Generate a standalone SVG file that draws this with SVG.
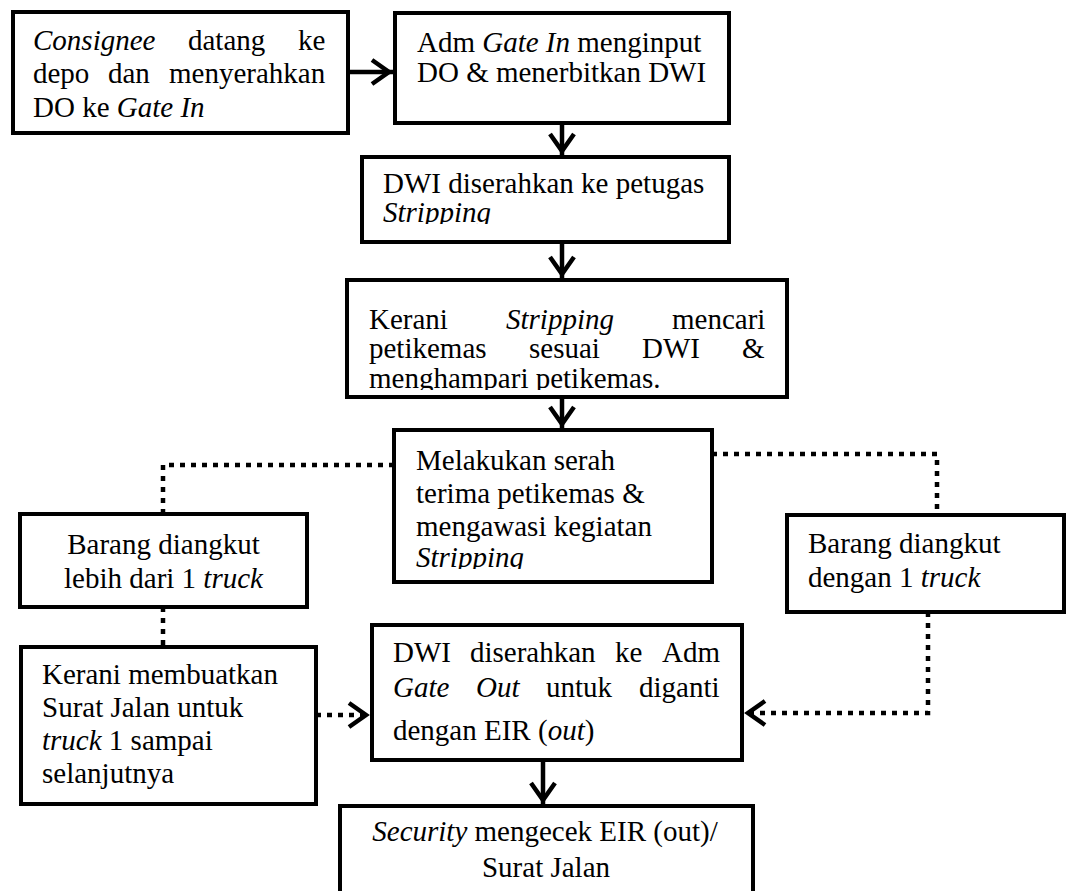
<svg xmlns="http://www.w3.org/2000/svg" width="1068" height="891" viewBox="0 0 1068 891">
<style>
.box{fill:#fff;stroke:#000;stroke-width:4}
text{font-family:"Liberation Serif","Times New Roman",serif;font-size:29px;fill:#000}
.i{font-style:italic}
.c{text-anchor:middle}
.conn{fill:none;stroke:#000;stroke-width:4.5}
.dot{stroke-dasharray:5 6}
.head{fill:none;stroke:#000;stroke-width:4.5;stroke-linejoin:miter}
</style>
<defs>
<marker id="ah" markerUnits="userSpaceOnUse" markerWidth="26" markerHeight="32" viewBox="-24 -16 26 32" refX="0" refY="0" orient="auto">
<path class="head" d="M-21,-12 L-4,0 L-21,12"/>
</marker>
<clipPath id="clip3"><rect x="362" y="157" width="367" height="67"/></clipPath>
<clipPath id="clip4"><rect x="347" y="280" width="440" height="110"/></clipPath>
<clipPath id="clip5"><rect x="394" y="430" width="318" height="139"/></clipPath>
</defs>
<rect width="1068" height="891" fill="#fff"/>

<g id="connectors">
<path class="conn" d="M348,72 H393" marker-end="url(#ah)"/>
<path class="conn" d="M562,123 V155" marker-end="url(#ah)"/>
<path class="conn" d="M562,242 V278" marker-end="url(#ah)"/>
<path class="conn" d="M562,397 V428" marker-end="url(#ah)"/>
<path class="conn dot" d="M394,465 H163 V512"/>
<path class="conn dot" d="M712,454 H937 V513"/>
<path class="conn dot" d="M163,607 V645"/>
<path class="conn dot" d="M316,715 H370" marker-end="url(#ah)"/>
<path class="conn dot" d="M928,612 V713 H744" marker-end="url(#ah)"/>
<path class="conn" d="M543,760 V804" marker-end="url(#ah)"/>
</g>

<g id="node-consignee">
<rect class="box" x="13" y="12" width="335" height="121"/>
<text y="50"><tspan class="i" x="33">Consignee</tspan><tspan x="188">datang</tspan><tspan x="298">ke</tspan></text>
<text y="83"><tspan x="33">depo</tspan><tspan x="108">dan</tspan><tspan x="169">menyerahkan</tspan></text>
<text x="33" y="117">DO ke <tspan class="i">Gate In</tspan></text>
</g>

<g id="node-adm-gate-in">
<rect class="box" x="395" y="13" width="334" height="110"/>
<text x="417" y="52">Adm <tspan class="i">Gate In</tspan> menginput</text>
<text x="417" y="82">DO &amp; menerbitkan DWI</text>
</g>

<g id="node-dwi-stripping">
<rect class="box" x="362" y="157" width="367" height="85"/>
<g clip-path="url(#clip3)">
<text x="383" y="193">DWI diserahkan ke petugas</text>
<text x="383" y="222" class="i">Stripping</text>
</g>
</g>

<g id="node-kerani-stripping">
<rect class="box" x="347" y="280" width="440" height="117"/>
<g clip-path="url(#clip4)">
<text y="329"><tspan x="369">Kerani</tspan><tspan class="i" x="506">Stripping</tspan><tspan x="672">mencari</tspan></text>
<text y="358"><tspan x="369">petikemas</tspan><tspan x="529">sesuai</tspan><tspan x="642">DWI</tspan><tspan x="742">&amp;</tspan></text>
<text x="369" y="388">menghampari petikemas.</text>
</g>
</g>

<g id="node-serah-terima">
<rect class="box" x="394" y="430" width="318" height="152"/>
<g clip-path="url(#clip5)">
<text x="416" y="470">Melakukan serah</text>
<text x="416" y="503">terima petikemas &amp;</text>
<text x="416" y="536">mengawasi kegiatan</text>
<text x="416" y="567" class="i">Stripping</text>
</g>
</g>

<g id="node-lebih-1-truck">
<rect class="box" x="20" y="514" width="287" height="93"/>
<text class="c" x="163.5" y="554">Barang diangkut</text>
<text class="c" x="163.5" y="588">lebih dari 1 <tspan class="i">truck</tspan></text>
</g>

<g id="node-1-truck">
<rect class="box" x="787" y="515" width="277" height="97"/>
<text x="808" y="553">Barang diangkut</text>
<text x="808" y="587">dengan 1 <tspan class="i">truck</tspan></text>
</g>

<g id="node-surat-jalan">
<rect class="box" x="21" y="647" width="295" height="157"/>
<text x="42" y="684">Kerani membuatkan</text>
<text x="42" y="717">Surat Jalan untuk</text>
<text x="42" y="750"><tspan class="i">truck</tspan> 1 sampai</text>
<text x="42" y="783">selanjutnya</text>
</g>

<g id="node-gate-out">
<rect class="box" x="372" y="625" width="370" height="135"/>
<text y="662"><tspan x="393">DWI</tspan><tspan x="470">diserahkan</tspan><tspan x="615">ke</tspan><tspan x="662">Adm</tspan></text>
<text y="697"><tspan class="i" x="393">Gate</tspan><tspan class="i" x="476">Out</tspan><tspan x="546">untuk</tspan><tspan x="639">diganti</tspan></text>
<text x="393" y="740">dengan EIR (<tspan class="i">out</tspan>)</text>
</g>

<g id="node-security">
<rect class="box" x="340" y="806" width="413" height="100"/>
<text class="c" x="545" y="841"><tspan class="i">Security</tspan> mengecek EIR (out)/</text>
<text class="c" x="546" y="877">Surat Jalan</text>
</g>
</svg>
